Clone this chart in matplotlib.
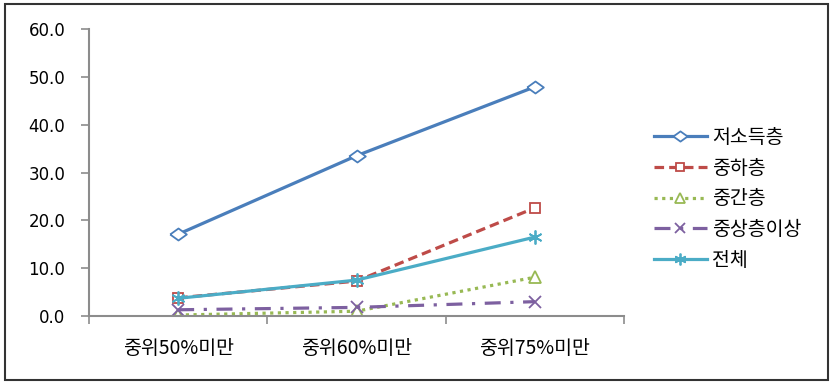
import matplotlib
matplotlib.use("Agg")
import matplotlib.pyplot as plt
from matplotlib.patches import Rectangle

plt.rcParams['font.family'] = ['Noto Sans CJK KR', 'DejaVu Sans']

categories = ['중위50%미만', '중위60%미만', '중위75%미만']
series_names = ['저소득층', '중하층', '중간층', '중상층이상', '전체']
low_income = [17.1, 33.5, 47.9]
lower_middle = [3.8, 7.3, 22.6]
middle = [0.2, 1.0, 8.1]
upper_middle = [1.3, 1.8, 3.0]
total = [3.7, 7.5, 16.5]
y_ticks = [0, 10, 20, 30, 40, 50, 60]

# wide, flat diamond marker
wide_diamond = [(-1, 0), (0, 0.72), (1, 0), (0, -0.72), (-1, 0)]

series_values = [low_income, lower_middle, middle, upper_middle, total]
styles = [
    dict(color='#4a7ebb', linestyle='-', marker=wide_diamond, markersize=12, markerfacecolor='white'),
    dict(color='#be4b48', linestyle=(0, (3, 1.6)), marker='s', markersize=7, markerfacecolor='white'),
    dict(color='#98b954', linestyle=(0, (1, 1.4)), marker='^', markersize=8, markerfacecolor='white'),
    dict(color='#7d60a0', linestyle=(0, (5, 3, 1, 3)), marker='x', markersize=8, markerfacecolor='none'),
    dict(color='#4bacc6', linestyle='-', marker=(6, 2, 0), markersize=10, markerfacecolor='none'),
]

fig = plt.figure(figsize=(8.33, 3.84), dpi=100)
ax = fig.add_axes([89 / 833, 1 - 316 / 384, 535 / 833, 287 / 384])

x = range(1, len(categories) + 1)
for name, vals, st in zip(series_names, series_values, styles):
    ax.plot(x, vals, label=name, linewidth=2.3,
            markeredgecolor=st['color'], markeredgewidth=1.3, **st)

ax.set_xlim(0.5, 3.5)
ax.set_ylim(0, 60)
ax.set_yticks(y_ticks)
ax.set_yticklabels([f'{v:.1f}' for v in y_ticks], family='DejaVu Sans', fontsize=12)
ax.set_xticks(list(x))
ax.set_xticklabels(categories, fontsize=14)
ax.set_xticks([0.5, 1.5, 2.5, 3.5], minor=True)
ax.tick_params(axis='x', which='major', length=0, pad=16)
ax.tick_params(axis='x', which='minor', length=6, width=1.2, color='#8c8c8c', direction='out')
ax.tick_params(axis='y', length=6, width=1.2, color='#8c8c8c', direction='out', pad=11)
for side in ('top', 'right'):
    ax.spines[side].set_visible(False)
for side in ('left', 'bottom'):
    ax.spines[side].set_color('#8c8c8c')
    ax.spines[side].set_linewidth(1.5)

leg = fig.legend(loc='upper left', bbox_to_anchor=(654 / 833, 1 - 127 / 384),
                 frameon=False, fontsize=14, handlelength=2.7, handletextpad=0.3,
                 labelspacing=0.5, borderpad=0, borderaxespad=0, markerscale=0.85)

fig.patches.append(Rectangle((5 / 833, 4 / 384), 823 / 833, 376 / 384,
                             transform=fig.transFigure, fill=False,
                             edgecolor='#333333', linewidth=1.5))

fig.savefig('out.png', dpi=100)
